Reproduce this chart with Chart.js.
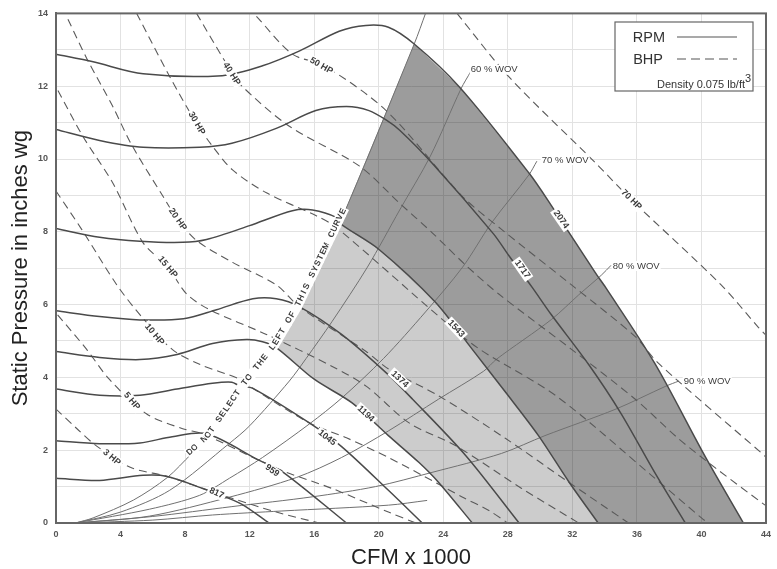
<!DOCTYPE html>
<html>
<head>
<meta charset="utf-8">
<title>Fan curve</title>
<script src="https://cdn.jsdelivr.net/npm/chart.js@4"></script>
<style>
  html, body { margin: 0; padding: 0; background: #fff; }
  canvas { display: block; }
</style>
</head>
<body>
<canvas id="chart" width="777" height="569"></canvas>
<script>
// all curves are [cfm / 1000, static pressure]
const rpm817 = [[0,1.23],[2.7,1.17],[5.4,1.31],[6.9,1.28],[9.1,.95],[10,.8],[11.5,.52],[13.2,0]];
const rpm959 = [[0,2.26],[2.7,2.18],[5.2,2.2],[7.2,2.37],[9.33,2.45],[12.6,1.72],[14,1.42],[18,0]];
const rpm1045 = [[0,3.68],[2.7,3.51],[5.2,3.51],[7.5,3.68],[9.7,3.84],[10.9,3.87],[11.4,3.76],[12.2,3.7],[15.7,2.75],[17.7,2.1],[20.6,.9],[22.7,0]];
const rpm1194 = [[0,4.71],[2.7,4.55],[5.2,4.49],[7.5,4.63],[9.7,4.93],[11.8,5.04],[12.8,4.98],[13.65,4.82],[16,3.95],[18.35,3.3],[20.6,2.4],[22.5,1.66],[23.7,1.12],[25.8,0]];
const rpm1374 = [[0,5.83],[2.7,5.67],[5.2,5.58],[7.9,5.61],[9.95,5.86],[12.2,6.16],[13.65,6.16],[15.1,5.94],[17.7,5.18],[20.5,4.11],[22.1,3.4],[25.4,1.85],[28.7,0]];
const rpm1543 = [[0,8.09],[2.7,7.85],[5.2,7.74],[7.85,7.71],[9.33,7.79],[12,8.17],[14.65,8.58],[15.9,8.6],[17.4,8.39],[17.7,8.2],[20,7.52],[23.5,6.07],[25.8,4.77],[27.9,3.57],[29.9,2.4],[31.8,1.12],[33.6,0]];
const rpm1717 = [[0,10.81],[2.7,10.51],[5.4,10.32],[8.9,10.32],[10.9,10.43],[13.65,10.84],[16.1,11.33],[18,11.44],[19.4,11.33],[20.5,11.06],[21.3,10.79],[23.3,9.89],[27.1,7.95],[28.06,7.35],[29.5,6.48],[30.7,5.72],[33,4.36],[35,3.02],[37.1,1.39],[39,0]];
const rpm2074 = [[0,12.88],[2.3,12.67],[5.4,12.34],[10.3,12.29],[12.8,12.56],[15.1,12.97],[17.55,13.51],[19.2,13.67],[20.6,13.62],[22.2,13.16],[25,11.98],[29.3,9.62],[30.7,8.72],[33.4,6.89],[34.05,6.48],[37.1,4.39],[40.2,1.85],[42.6,0]];

const bhp3 = [[0,3.13],[1.3,2.59],[2.5,2.12],[4.6,1.53],[6.9,1.28],[9.1,.95],[10.9,.68],[13.65,.3],[16.3,0]];
const bhp5 = [[.1,5.72],[1.9,4.77],[3.3,3.95],[5.6,3],[7.85,2.59],[9.1,2.45],[12.6,1.72],[14.3,1.39],[17.1,.95],[20.6,.3],[22.3,0]];
const bhp10 = [[0,9.12],[1.6,8.06],[3.77,6.54],[5.3,5.67],[7.2,4.77],[8.9,4.36],[11.4,3.95],[12.2,3.7],[15.7,2.75],[18,2.34],[20.6,1.8],[22.7,1.31],[25.2,.71],[26.8,.35],[28,0]];
const bhp15 = [[.12,11.88],[1.67,10.62],[3.52,9.34],[5.38,7.71],[6.92,7.03],[8.1,6.29],[9.52,5.86],[13.04,5.18],[17.12,4.3],[19.22,3.76],[21.88,2.75],[24.78,2.12],[28.86,.95],[32.39,0]];
const bhp20 = [[.74,13.84],[1.92,12.75],[3.52,11.44],[4.7,10.38],[6.61,8.99],[7.54,8.34],[8.71,7.76],[10.94,7.16],[13.66,6.54],[15.08,5.94],[19.22,4.71],[20.64,4.22],[23.73,3.49],[27.87,2.32],[31.77,1.12],[35.48,0]];
const bhp30 = [[5,14],[7.05,12.26],[8.71,10.98],[9.7,10.35],[10.94,9.7],[13.04,9.07],[16.13,8.44],[17.37,8.12],[23.9,5.61],[26.2,4.79],[31,3.49],[36.9,1.31],[40,.14],[40.4,0]];
const bhp40 = [[8.71,14],[10.57,12.61],[11.37,12.07],[14.46,10.9],[18.79,9.81],[21.26,8.8],[23.3,7.98],[25.4,7.08],[27.44,6.29],[31.95,4.77],[35.9,3.4],[38.57,2.32],[40.9,1.5],[43.94,.49]];
const bhp50 = [[12.42,13.92],[14.65,12.88],[16.63,12.56],[20.46,11.33],[25.15,8.99],[27.63,8.06],[31.95,6.54],[35.9,5.12],[37.33,4.39],[43.7,1.93],[43.94,1.83]];
const bhp70 = [[24.85,14],[28.06,12.26],[33.44,9.89],[35.66,8.88],[41.22,6.54],[43.5,5.39],[43.94,5.18]];

const wov60 = [[1.2,0],[4,.3],[7.05,.9],[10.75,2.19],[12,2.67],[14.46,3.9],[15.5,4.52],[17.1,5.53],[19.3,7.03],[21.3,8.6],[23.2,10.08],[25.1,11.93],[25.7,12.4]];
const wov70 = [[1.2,0],[5.8,.38],[8.9,.76],[10.75,1.23],[12.8,1.8],[15.7,2.72],[17.7,3.43],[20.3,4.52],[22.9,5.8],[25.2,7.03],[27,8.25],[29.3,9.56],[29.8,9.94]];
const wov80 = [[1.2,0],[5.8,.19],[10.75,.71],[14.9,1.25],[17.7,1.8],[20.6,2.53],[23.7,3.4],[26.5,4.17],[27.3,4.5],[30.7,5.59],[32.4,6.27],[33.8,6.81],[34.4,7.08]];
const wov90 = [[1.2,0],[6,.18],[10.9,.45],[15.9,.72],[19.8,1],[23.3,1.39],[27.6,1.91],[30.3,2.4],[34.7,3.13],[37.8,3.76],[38.6,3.9]];
const wov100 = [[1.2,0],[6,.08],[9.7,.22],[14,.33],[20.6,.49],[23,.62]];

const systemCurve = [[1.2,0],[2.3,.14],[4.8,.63],[6.9,1.25],[8.4,1.9],[9.5,2.34],[11.6,3.68],[13.65,4.85],[15.1,5.94],[17.55,8.2],[22.2,13.16],[22.9,14]];

const xTicks = [0, 4, 8, 12, 16, 20, 24, 28, 32, 36, 40, 44];

// shaded regions, top and bottom edges
const lightTop = systemCurve.slice(7, 10).concat(rpm1543.slice(10));
const lightBottom = rpm1194.slice(7).concat([[33.6, 0]]);
const darkTop = systemCurve.slice(9, 11).concat(rpm2074.slice(10));
const darkBottom = systemCurve.slice(9, 10).concat(rpm1543.slice(10), [[42.6, 0]]);

const rpmLabels = ["817", "959", "1045", "1194", "1374", "1543", "1717", "2074"];
const rpmLabelAt = [[9.95,.82,25],[13.4,1.44,35],[16.8,2.34,38],[19.2,3,43],[21.3,3.95,43],[24.8,5.34,47],[28.9,6.97,55],[31.3,8.34,55]];
const hpLabels = ["3 HP", "5 HP", "10 HP", "15 HP", "20 HP", "30 HP", "40 HP", "50 HP", "70 HP"];
const hpLabelAt = [[3.46,1.8,40],[4.7,3.35,50],[6.1,5.18,50],[6.92,7.03,50],[7.54,8.34,55],[8.71,10.98,60],[10.88,12.34,58],[16.44,12.56,30],[35.66,8.88,45]];
const wovLabels = ["60 % WOV", "70 % WOV", "80 % WOV", "90 % WOV"];
const wovLabelAt = [[25.7,12.45],[30.1,9.97],[34.5,7.06],[38.9,3.9]];
const systemText = "DO NOT SELECT TO THE LEFT OF THIS SYSTEM CURVE";

function solid(data) {
  return { data: data, borderColor: "#4a4a4a", borderWidth: 1.5, tension: 0.3 };
}
function dashed(data) {
  return { data: data, borderColor: "#5a5a5a", borderWidth: 1.1, borderDash: [8, 5], tension: 0.3 };
}
function thin(data) {
  return { data: data, borderColor: "#707070", borderWidth: 1, tension: 0.3 };
}
function region(top, fillColor, target) {
  return { data: top, borderWidth: 0, borderColor: "transparent", backgroundColor: fillColor, fill: { target: target }, tension: 0 };
}
function edge(bottom) {
  return { data: bottom, borderWidth: 0, borderColor: "transparent", fill: false, tension: 0 };
}

const lineSets = [
  solid(rpm817), solid(rpm959), solid(rpm1045), solid(rpm1194), solid(rpm1374), solid(rpm1543), solid(rpm1717), solid(rpm2074),
  dashed(bhp3), dashed(bhp5), dashed(bhp10), dashed(bhp15), dashed(bhp20), dashed(bhp30), dashed(bhp40), dashed(bhp50), dashed(bhp70),
  thin(wov60), thin(wov70), thin(wov80), thin(wov90), thin(wov100), thin(systemCurve),
];
const n = lineSets.length;
// later datasets are painted first, so the fills sit under the lines
const datasets = lineSets.concat([
  region(darkTop, "rgba(0,0,0,0.39)", n + 1), edge(darkBottom),
  region(lightTop, "rgba(0,0,0,0.2)", n + 3), edge(lightBottom),
]);

const annotations = {
  id: "annotations",
  afterDatasetsDraw(chart) {
    const ctx = chart.ctx, xs = chart.scales.x, ys = chart.scales.y, a = chart.chartArea;
    ctx.save();

    ctx.strokeStyle = "#666";
    ctx.lineWidth = 2;
    ctx.strokeRect(a.left, a.top, a.right - a.left, a.bottom - a.top);

    ctx.textAlign = "center";
    ctx.textBaseline = "middle";
    ctx.font = "bold 9px 'Liberation Sans'";
    function tilted(text, at, halo) {
      ctx.save();
      ctx.translate(xs.getPixelForValue(at[0]), ys.getPixelForValue(at[1]));
      ctx.rotate(at[2] * Math.PI / 180);
      const w = ctx.measureText(text).width + 4;
      if (halo) {
        ctx.fillStyle = "#fff";
        ctx.fillRect(-w / 2, -5, w, 10);
      }
      ctx.fillStyle = "#3c3c3c";
      ctx.fillText(text, 0, 0);
      ctx.restore();
    }
    rpmLabels.forEach((t, i) => tilted(t, rpmLabelAt[i], true));
    hpLabels.forEach((t, i) => tilted(t, hpLabelAt[i], true));

    ctx.textAlign = "left";
    ctx.font = "9.5px 'Liberation Sans'";
    wovLabels.forEach((t, i) => {
      const px = xs.getPixelForValue(wovLabelAt[i][0]), py = ys.getPixelForValue(wovLabelAt[i][1]);
      ctx.fillStyle = "#fff";
      ctx.fillRect(px - 1, py - 5, ctx.measureText(t).width + 2, 10);
      ctx.fillStyle = "#3c3c3c";
      ctx.fillText(t, px, py);
    });

    // text follows the system curve, one letter at a time
    const path = systemCurve.slice(4, 10).map(p => [xs.getPixelForValue(p[0]), ys.getPixelForValue(p[1])]);
    ctx.textAlign = "center";
    ctx.font = "bold 8.5px 'Liberation Sans'";
    let seg = 0, used = 0;
    for (let i = 0; i < systemText.length; i++) {
      let dx = path[seg + 1][0] - path[seg][0], dy = path[seg + 1][1] - path[seg][1];
      let len = Math.hypot(dx, dy);
      while (used > len && seg < path.length - 2) {
        used -= len;
        seg++;
        dx = path[seg + 1][0] - path[seg][0];
        dy = path[seg + 1][1] - path[seg][1];
        len = Math.hypot(dx, dy);
      }
      ctx.save();
      ctx.translate(path[seg][0] + dx * used / len, path[seg][1] + dy * used / len);
      ctx.rotate(Math.atan2(dy, dx));
      ctx.fillStyle = "#fff";
      ctx.fillRect(-4, -7.5, 8, 10);
      ctx.fillStyle = "#3c3c3c";
      ctx.fillText(systemText[i], 0, -2.5);
      ctx.restore();
      used += 6.4;
    }

    // key box
    ctx.fillStyle = "#fff";
    ctx.fillRect(615, 22, 138, 69);
    ctx.strokeStyle = "#666";
    ctx.lineWidth = 1.2;
    ctx.strokeRect(615, 22, 138, 69);
    ctx.fillStyle = "#333";
    ctx.font = "14.5px 'Liberation Sans'";
    ctx.textAlign = "right";
    ctx.fillText("RPM", 665, 38);
    ctx.fillText("BHP", 663, 60);
    ctx.font = "11px 'Liberation Sans'";
    ctx.fillText("Density 0.075 lb/ft", 745, 85);
    ctx.textAlign = "left";
    ctx.fillText("3", 745, 79);
    ctx.strokeStyle = "#555";
    ctx.lineWidth = 1.1;
    ctx.beginPath();
    ctx.moveTo(677, 37);
    ctx.lineTo(737, 37);
    ctx.stroke();
    ctx.setLineDash([9, 5]);
    ctx.beginPath();
    ctx.moveTo(677, 59);
    ctx.lineTo(737, 59);
    ctx.stroke();
    ctx.restore();
  },
};

new Chart(document.getElementById("chart"), {
  type: "scatter",
  data: { datasets: datasets },
  options: {
    responsive: false,
    animation: false,
    showLine: true,
    elements: { point: { radius: 0 } },
    layout: { padding: { top: 9, right: 10, bottom: 0, left: 0 } },
    plugins: { legend: { display: false }, tooltip: { enabled: false }, filler: { propagate: false } },
    scales: {
      x: {
        type: "linear",
        min: 0,
        max: 44,
        afterBuildTicks(scale) {
          scale.ticks = xTicks.map(v => ({ value: v }));
        },
        afterFit(scale) {
          scale.height = 46;
        },
        grid: { color: "#e2e2e2", drawTicks: false },
        border: { color: "#666", width: 2 },
        ticks: { color: "#555", font: { size: 9, family: "Liberation Sans", weight: "bold" }, padding: 6, maxRotation: 0 },
        title: { display: true, text: "CFM x 1000", color: "#222", font: { size: 22, family: "Liberation Sans", lineHeight: 1 }, padding: { top: 0, bottom: 0 } },
      },
      y: {
        min: 0,
        max: 14,
        afterFit(scale) {
          scale.width = 56;
        },
        grid: { color: "#e2e2e2", drawTicks: false },
        border: { color: "#666", width: 2 },
        ticks: {
          stepSize: 1,
          autoSkip: false,
          color: "#555",
          font: { size: 9, family: "Liberation Sans", weight: "bold" },
          padding: 8,
          callback: v => (v % 2 === 0 ? v : ""),
        },
        title: { display: true, text: "Static Pressure in inches wg", color: "#222", font: { size: 22, family: "Liberation Sans" }, padding: { top: 8, bottom: 0 } },
      },
    },
  },
  plugins: [annotations],
});
</script>
</body>
</html>
